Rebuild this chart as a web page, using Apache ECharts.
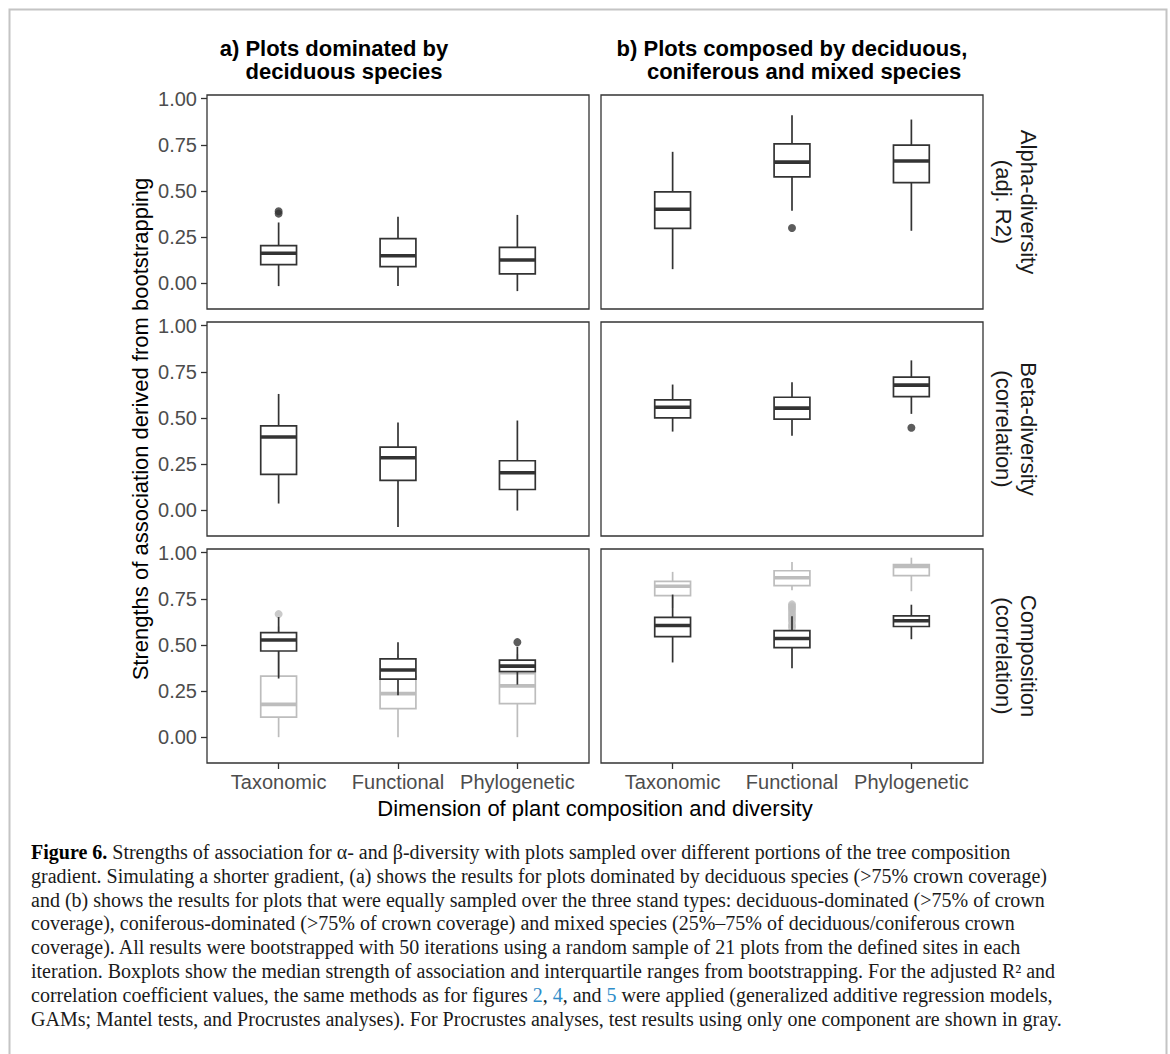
<!DOCTYPE html>
<html>
<head>
<meta charset="utf-8">
<script src="https://cdn.jsdelivr.net/npm/echarts@6/dist/echarts.min.js"></script>
<style>
html,body{margin:0;padding:0;background:#fff;}
#chart{width:1170px;height:1054px;}
</style>
</head>
<body>
<div id="chart"></div>
<script>
// ---------- data ----------
const categories = ['Taxonomic', 'Functional', 'Phylogenetic'];
const yTicks = [0, 0.25, 0.5, 0.75, 1];
const columnTitles = [
  ['a) Plots dominated by', 'deciduous species'],
  ['b) Plots composed by deciduous,', 'coniferous and mixed species']
];
const rowLabels = [
  ['Alpha-diversity', '(adj. R2)'],
  ['Beta-diversity', '(correlation)'],
  ['Composition', '(correlation)']
];
const yTitle = 'Strengths of association derived from bootstrapping';
const xTitle = 'Dimension of plant composition and diversity';

// box stats per category: [lower whisker, Q1, median, Q3, upper whisker]
const alphaDeciduous = [[-0.016, 0.101, 0.162, 0.203, 0.329], [-0.016, 0.090, 0.149, 0.241, 0.360], [-0.043, 0.050, 0.126, 0.194, 0.370]];
const alphaDeciduousOut = [[0, 0.390], [0, 0.377]];
const alphaMixed = [[0.076, 0.297, 0.401, 0.495, 0.712], [0.392, 0.576, 0.656, 0.755, 0.910], [0.284, 0.545, 0.662, 0.748, 0.887]];
const alphaMixedOut = [[1, 0.299]];

const betaDeciduous = [[0.036, 0.194, 0.397, 0.457, 0.630], [-0.091, 0.161, 0.284, 0.342, 0.475], [-0.002, 0.112, 0.203, 0.268, 0.486]];
const betaDeciduousOut = [];
const betaMixed = [[0.426, 0.500, 0.558, 0.598, 0.681], [0.404, 0.493, 0.553, 0.612, 0.694], [0.522, 0.616, 0.678, 0.721, 0.812]];
const betaMixedOut = [[2, 0.447]];

const compDeciduous = [[0.318, 0.467, 0.527, 0.567, 0.651], [0.227, 0.315, 0.364, 0.424, 0.515], [0.285, 0.355, 0.385, 0.418, 0.490]];
const compDeciduousOut = [[2, 0.515]];
const compDeciduousGray = [[0.000, 0.109, 0.178, 0.331, 0.600], [0.000, 0.155, 0.236, 0.330, 0.450], [0.000, 0.182, 0.278, 0.345, 0.450]];
const compDeciduousGrayOut = [[0, 0.667]];
const compMixed = [[0.405, 0.545, 0.605, 0.649, 0.773], [0.373, 0.485, 0.535, 0.578, 0.655], [0.531, 0.600, 0.631, 0.658, 0.718]];
const compMixedOut = [];
const compMixedGray = [[0.700, 0.767, 0.818, 0.844, 0.896], [0.796, 0.822, 0.864, 0.902, 0.949], [0.791, 0.876, 0.925, 0.936, 0.973]];
const compMixedGrayOut = [[1, 0.720], [1, 0.710], [1, 0.700], [1, 0.690], [1, 0.675], [1, 0.660], [1, 0.645], [1, 0.630], [1, 0.610], [1, 0.595]];

const captionLines = [
  '{b|Figure 6.} Strengths of association for α- and β-diversity with plots sampled over different portions of the tree composition',
  'gradient. Simulating a shorter gradient, (a) shows the results for plots dominated by deciduous species (>75% crown coverage)',
  'and (b) shows the results for plots that were equally sampled over the three stand types: deciduous-dominated (>75% of crown',
  'coverage), coniferous-dominated (>75% of crown coverage) and mixed species (25%–75% of deciduous/coniferous crown',
  'coverage). All results were bootstrapped with 50 iterations using a random sample of 21 plots from the defined sites in each',
  'iteration. Boxplots show the median strength of association and interquartile ranges from bootstrapping. For the adjusted R² and',
  'correlation coefficient values, the same methods as for figures {l|2}, {l|4}, and {l|5} were applied (generalized additive regression models,',
  'GAMs; Mantel tests, and Procrustes analyses). For Procrustes analyses, test results using only one component are shown in gray.'
];

// ---------- layout / style ----------
const SANS = '"Liberation Sans", Arial, Helvetica, sans-serif';
const SERIF = '"Liberation Serif", "Times New Roman", serif';
const DARK = '#333333';
const GRAY = '#bdbdbd';
const colLeft = [207, 601];
const rowTop = [95, 322, 549];
const PW = 382, PH = 214;
const BOX_W = 0.3;

const panels = [
  {r: 0, c: 0, dark: alphaDeciduous, darkOut: alphaDeciduousOut},
  {r: 0, c: 1, dark: alphaMixed, darkOut: alphaMixedOut},
  {r: 1, c: 0, dark: betaDeciduous, darkOut: betaDeciduousOut},
  {r: 1, c: 1, dark: betaMixed, darkOut: betaMixedOut},
  {r: 2, c: 0, dark: compDeciduous, darkOut: compDeciduousOut, gray: compDeciduousGray, grayOut: compDeciduousGrayOut},
  {r: 2, c: 1, dark: compMixed, darkOut: compMixedOut, gray: compMixedGray, grayOut: compMixedGrayOut}
];

function boxRender(color) {
  return function (params, api) {
    const x = api.value(0);
    const pLo = api.coord([x, api.value(1)]);
    const pQ1 = api.coord([x, api.value(2)]);
    const pMd = api.coord([x, api.value(3)]);
    const pQ3 = api.coord([x, api.value(4)]);
    const pHi = api.coord([x, api.value(5)]);
    const half = api.size([BOX_W, 0])[0] / 2;
    const cx = pMd[0];
    return {
      type: 'group',
      children: [
        {type: 'line', shape: {x1: cx, y1: pHi[1], x2: cx, y2: pQ3[1]}, style: {stroke: color, lineWidth: 1.7}},
        {type: 'line', shape: {x1: cx, y1: pQ1[1], x2: cx, y2: pLo[1]}, style: {stroke: color, lineWidth: 1.7}},
        {type: 'rect', shape: {x: cx - half, y: pQ3[1], width: half * 2, height: pQ1[1] - pQ3[1]},
          style: {fill: '#ffffff', stroke: color, lineWidth: 1.7}},
        {type: 'line', shape: {x1: cx - half, y1: pMd[1], x2: cx + half, y2: pMd[1]}, style: {stroke: color, lineWidth: 3.6}}
      ]
    };
  };
}

const grid = [], xAxis = [], yAxis = [], series = [];
panels.forEach((p, gi) => {
  grid.push({left: colLeft[p.c], top: rowTop[p.r], width: PW, height: PH, show: true,
    borderColor: DARK, borderWidth: 1.3, backgroundColor: '#ffffff'});
  const bottom = p.r === 2, left = p.c === 0;
  xAxis.push({type: 'value', gridIndex: gi, min: 0.4, max: 3.6, position: 'bottom',
    axisLine: {show: false, onZero: false}, splitLine: {show: false},
    axisTick: {show: bottom, customValues: [1, 2, 3], length: 6, lineStyle: {color: DARK, width: 1.3}},
    axisLabel: {show: bottom, customValues: [1, 2, 3], margin: 9, color: '#4d4d4d', fontSize: 20, fontFamily: SANS,
      formatter: v => categories[Math.round(v) - 1]}});
  yAxis.push({type: 'value', gridIndex: gi, min: -0.14, max: 1.02, position: 'left',
    axisLine: {show: false, onZero: false}, splitLine: {show: false},
    axisTick: {show: left, customValues: yTicks, length: 6, lineStyle: {color: DARK, width: 1.3}},
    axisLabel: {show: left, customValues: yTicks, margin: 10, color: '#4d4d4d', fontSize: 20, fontFamily: SANS,
      formatter: v => v.toFixed(2)}});
  const toBox = arr => arr.map((s, i) => [i + 1].concat(s));
  const toPts = arr => arr.map(o => [o[0] + 1, o[1]]);
  if (p.gray) {
    series.push({type: 'custom', xAxisIndex: gi, yAxisIndex: gi, renderItem: boxRender(GRAY),
      dimensions: ['x', 'lo', 'q1', 'med', 'q3', 'hi'], encode: {x: 0, y: [1, 2, 3, 4, 5]},
      data: toBox(p.gray), silent: true, z: 2});
    series.push({type: 'scatter', xAxisIndex: gi, yAxisIndex: gi, data: toPts(p.grayOut), symbolSize: 8,
      itemStyle: {color: GRAY}, silent: true, z: 3});
  }
  series.push({type: 'custom', xAxisIndex: gi, yAxisIndex: gi, renderItem: boxRender(DARK),
    dimensions: ['x', 'lo', 'q1', 'med', 'q3', 'hi'], encode: {x: 0, y: [1, 2, 3, 4, 5]},
    data: toBox(p.dark), silent: true, z: 4});
  series.push({type: 'scatter', xAxisIndex: gi, yAxisIndex: gi, data: toPts(p.darkOut), symbolSize: 8,
    itemStyle: {color: DARK}, silent: true, z: 5});
});

const graphic = [];
// outer frame
graphic.push({type: 'rect', left: 7, top: 7, shape: {x: 0, y: 0, width: 1157, height: 1070},
  style: {fill: 'none', stroke: '#c4c4c4', lineWidth: 2}, silent: true, z: -1});
// column titles
const titlePos = [[[334, 48], [344, 71]], [[792, 48], [804, 71]]];
columnTitles.forEach((lines, c) => lines.forEach((t, k) => {
  graphic.push({type: 'text', x: titlePos[c][k][0], y: titlePos[c][k][1],
    style: {text: t, font: 'bold 22px ' + SANS, fill: '#000', align: 'center', verticalAlign: 'middle'}});
}));
// row strip labels
rowLabels.forEach((lines, r) => {
  const cy = rowTop[r] + PH / 2;
  [1028, 1003].forEach((x, k) => {
    graphic.push({type: 'text', x: x, y: cy, rotation: -Math.PI / 2,
      style: {text: lines[k], font: '22px ' + SANS, fill: '#1a1a1a', align: 'center', verticalAlign: 'middle'}});
  });
});
// axis titles
graphic.push({type: 'text', x: 140, y: rowTop[0] + (rowTop[2] + PH - rowTop[0]) / 2, rotation: Math.PI / 2,
  style: {text: yTitle, font: '22px ' + SANS, fill: '#000', align: 'center', verticalAlign: 'middle'}});
graphic.push({type: 'text', x: colLeft[0] + (colLeft[1] + PW - colLeft[0]) / 2, y: 808,
  style: {text: xTitle, font: '22px ' + SANS, fill: '#000', align: 'center', verticalAlign: 'middle'}});
// caption
captionLines.forEach((t, i) => {
  graphic.push({type: 'text', x: 31, y: 852 + i * 23.8,
    style: {text: t, fontFamily: SERIF, fontSize: 20, fill: '#1a1a1a', align: 'left', verticalAlign: 'middle',
      rich: {
        b: {fontFamily: SERIF, fontSize: 20, fontWeight: 'bold', fill: '#000'},
        l: {fontFamily: SERIF, fontSize: 20, fill: '#2f8dc9'}
      }}});
});

const chart = echarts.init(document.getElementById('chart'), null, {renderer: 'svg'});
chart.setOption({
  animation: false,
  backgroundColor: '#ffffff',
  grid, xAxis, yAxis, series, graphic
});
</script>
</body>
</html>
